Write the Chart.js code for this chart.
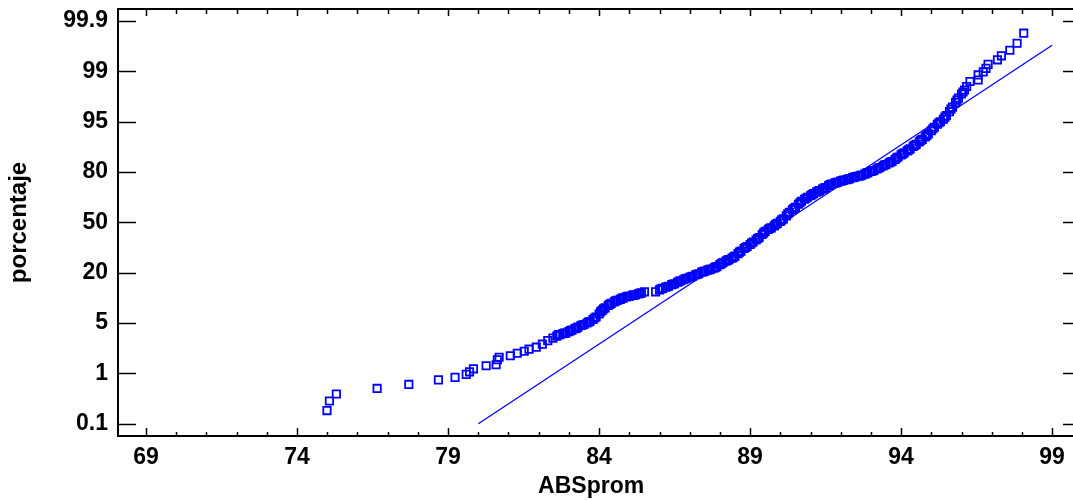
<!DOCTYPE html>
<html>
<head>
<meta charset="utf-8">
<script src="https://cdn.jsdelivr.net/npm/chart.js@4.4.1/dist/chart.umd.min.js"></script>
<style>
html, body { margin: 0; padding: 0; background: #fff; overflow: hidden; }
#wrap { width: 1073px; height: 500px; }
</style>
</head>
<body>
<div id="wrap"><canvas id="probplot" width="1073" height="500"></canvas></div>
<script>
// y axis: percentage labels, drawn equally spaced (position = index in this list)
var yTickLabels = ['0.1', '1', '5', '20', '50', '80', '95', '99', '99.9'];
var xTicks = [69, 74, 79, 84, 89, 94, 99];

// observed points: ABSprom value and its plotting position on the y axis
var absProm = [74.99, 75.07, 75.30, 76.65, 77.70, 78.68, 79.23, 79.60, 79.71, 79.84,
  80.26, 80.59, 80.63, 80.69, 81.06, 81.29, 81.52, 81.68, 81.92, 82.12, 82.30, 82.47,
  82.60, 82.70, 82.80, 82.90, 83.00, 83.10, 83.20, 83.30, 83.40, 83.50, 83.60, 83.70,
  83.80, 83.90, 84.00, 84.05, 84.10, 84.20, 84.30, 84.40, 84.50, 84.60, 84.70, 84.80,
  84.90, 85.00, 85.10, 85.20, 85.30, 85.40, 85.50, 85.87, 86.00, 86.10, 86.20, 86.30,
  86.40, 86.50, 86.60, 86.70, 86.80, 86.90, 87.00, 87.10, 87.20, 87.30, 87.40, 87.50,
  87.60, 87.70, 87.80, 87.90, 88.00, 88.10, 88.20, 88.30, 88.40, 88.50, 88.60, 88.70,
  88.80, 88.90, 89.00, 89.10, 89.20, 89.30, 89.40, 89.50, 89.60, 89.70, 89.80, 89.90,
  90.00, 90.10, 90.20, 90.30, 90.40, 90.50, 90.60, 90.70, 90.80, 90.90, 91.00, 91.10,
  91.20, 91.30, 91.40, 91.50, 91.60, 91.70, 91.80, 91.90, 92.00, 92.10, 92.20, 92.30,
  92.40, 92.50, 92.60, 92.70, 92.80, 92.90, 93.00, 93.10, 93.20, 93.30, 93.40, 93.50,
  93.60, 93.70, 93.80, 93.90, 94.00, 94.10, 94.20, 94.30, 94.40, 94.50, 94.60, 94.70,
  94.80, 94.90, 95.00, 95.10, 95.20, 95.30, 95.40, 95.50, 95.60, 95.70, 95.80, 95.90,
  96.00, 96.10, 96.17, 96.28, 96.55, 96.55, 96.72, 96.81, 96.88, 97.19, 97.32, 97.60,
  97.84, 98.06,
  // second pass through the dense part of the band
  82.65, 82.85, 83.05, 83.25, 83.45, 83.65, 83.85, 84.15, 84.35, 84.55, 84.75, 84.95,
  85.15, 85.35, 86.05, 86.25, 86.45, 86.65, 86.85, 87.05, 87.25, 87.45, 87.65, 87.85,
  88.05, 88.25, 88.45, 88.65, 88.85, 89.05, 89.25, 89.45, 89.65, 89.85, 90.05, 90.25,
  90.45, 90.65, 90.85, 91.05, 91.25, 91.45, 91.65, 91.85, 92.05, 92.25, 92.45, 92.65,
  92.85, 93.05, 93.25, 93.45, 93.65, 93.85, 94.05, 94.25, 94.45, 94.65, 94.85, 95.05,
  95.25, 95.45, 95.65, 95.85, 96.05];
var position = [0.26, 0.45, 0.59, 0.70, 0.78, 0.87, 0.92, 0.98, 1.03, 1.09,
  1.15, 1.17, 1.27, 1.32, 1.35, 1.40, 1.44, 1.48, 1.52, 1.58, 1.65, 1.70,
  1.74, 1.77, 1.79, 1.80, 1.83, 1.86, 1.89, 1.92, 1.95, 1.97, 2.00, 2.03,
  2.07, 2.12, 2.18, 2.22, 2.25, 2.30, 2.35, 2.39, 2.42, 2.45, 2.47, 2.50,
  2.52, 2.53, 2.55, 2.56, 2.58, 2.60, 2.62, 2.62, 2.66, 2.69, 2.71, 2.73,
  2.76, 2.78, 2.81, 2.84, 2.86, 2.89, 2.91, 2.93, 2.96, 2.98, 3.01, 3.03,
  3.05, 3.07, 3.09, 3.12, 3.16, 3.20, 3.23, 3.26, 3.29, 3.33, 3.38, 3.43,
  3.48, 3.52, 3.56, 3.61, 3.65, 3.70, 3.76, 3.82, 3.86, 3.89, 3.93, 3.98,
  4.02, 4.07, 4.13, 4.20, 4.25, 4.30, 4.36, 4.42, 4.46, 4.50, 4.53, 4.57,
  4.60, 4.63, 4.66, 4.69, 4.73, 4.76, 4.78, 4.80, 4.82, 4.84, 4.85, 4.87,
  4.89, 4.91, 4.92, 4.94, 4.96, 4.99, 5.01, 5.03, 5.06, 5.09, 5.12, 5.15,
  5.18, 5.21, 5.25, 5.30, 5.34, 5.38, 5.42, 5.46, 5.51, 5.55, 5.60, 5.65,
  5.70, 5.76, 5.82, 5.89, 5.95, 6.00, 6.05, 6.12, 6.20, 6.29, 6.38, 6.47,
  6.55, 6.63, 6.70, 6.80, 6.83, 6.93, 6.99, 7.06, 7.14, 7.23, 7.31, 7.42,
  7.56, 7.76,
  1.77, 1.80, 1.85, 1.90, 1.96, 2.02, 2.10, 2.28, 2.37, 2.44, 2.49, 2.53,
  2.56, 2.59, 2.68, 2.72, 2.77, 2.83, 2.88, 2.92, 2.97, 3.02, 3.06, 3.11,
  3.18, 3.25, 3.31, 3.41, 3.50, 3.59, 3.68, 3.79, 3.88, 3.96, 4.05, 4.17,
  4.28, 4.39, 4.48, 4.55, 4.62, 4.68, 4.75, 4.79, 4.83, 4.86, 4.90, 4.93,
  4.98, 5.02, 5.08, 5.14, 5.20, 5.28, 5.36, 5.44, 5.53, 5.63, 5.73, 5.86,
  5.98, 6.09, 6.25, 6.43, 6.59];

// fitted normal reference line (end points)
var fitX = [80.0, 99.0];
var fitPos = [0.0, 7.52];

var blue = '#0000ff';
var fontFam = '"Liberation Sans", Arial, sans-serif';

var points = absProm.map(function (v, i) { return { x: v, y: position[i] }; });
var fitLine = fitX.map(function (v, i) { return { x: v, y: fitPos[i] }; });

// frame with inward ticks; the right side runs to the canvas edge as in the original
var framePlugin = {
  id: 'frame',
  afterDraw: function (chart) {
    var ctx = chart.ctx, a = chart.chartArea;
    var xs = chart.scales.x, ys = chart.scales.y;
    var right = chart.width - 1;
    ctx.save();
    ctx.strokeStyle = '#000';
    ctx.lineWidth = 2;
    ctx.beginPath();
    ctx.moveTo(right + 2, a.top);
    ctx.lineTo(a.left, a.top);
    ctx.lineTo(a.left, a.bottom);
    ctx.lineTo(right + 2, a.bottom);
    ctx.stroke();
    ctx.lineWidth = 1.5;
    ctx.beginPath();
    for (var v = 69; v <= 99; v++) {
      var px = Math.round(xs.getPixelForValue(v)) + 0.5;
      var major = (v - 69) % 5 === 0;
      ctx.moveTo(px, a.bottom);
      ctx.lineTo(px, a.bottom - (major ? 8 : 4));
      ctx.moveTo(px, a.top);
      ctx.lineTo(px, a.top + (major ? 7 : 5));
    }
    yTickLabels.forEach(function (l, i) {
      var py = Math.round(ys.getPixelForValue(i)) + 0.5;
      ctx.moveTo(a.left, py);
      ctx.lineTo(a.left + 18, py);
      ctx.moveTo(right + 1, py);
      ctx.lineTo(right - 9, py);
    });
    ctx.stroke();
    ctx.restore();
  }
};

var config = {
  type: 'scatter',
  data: {
    datasets: [{
      label: 'ABSprom',
      data: points,
      pointStyle: 'rect',
      pointRadius: 5.2,
      pointBorderWidth: 1.8,
      pointBorderColor: blue,
      pointBackgroundColor: 'rgba(0,0,0,0)',
      showLine: false
    }, {
      label: 'Normal',
      data: fitLine,
      showLine: true,
      borderColor: blue,
      borderWidth: 1.3,
      pointRadius: 0
    }]
  },
  plugins: [framePlugin],
  options: {
    responsive: false,
    animation: false,
    layout: { padding: { top: 9, right: 0, left: 0, bottom: 0 } },
    plugins: {
      legend: { display: false },
      tooltip: { enabled: false }
    },
    scales: {
      x: {
        type: 'linear',
        min: 68.07,
        max: 99.4,
        afterFit: function (s) { s.height = 64; },
        afterBuildTicks: function (s) { s.ticks = xTicks.map(function (v) { return { value: v }; }); },
        grid: { display: false, drawTicks: false },
        border: { display: false },
        ticks: {
          color: '#000',
          padding: 8,
          font: { family: fontFam, size: 23, weight: 'bold' },
          callback: function (v) { return v; }
        },
        title: {
          display: true,
          text: 'ABSprom',
          color: '#000',
          padding: { top: 0, bottom: 0 },
          font: { family: fontFam, size: 23, weight: 'bold' }
        }
      },
      y: {
        type: 'linear',
        min: -0.245,
        max: 8.24,
        afterFit: function (s) { s.width = 118; s.paddingTop = 0; s.paddingBottom = 0; },
        afterBuildTicks: function (s) { s.ticks = yTickLabels.map(function (l, i) { return { value: i }; }); },
        grid: { display: false, drawTicks: false },
        border: { display: false },
        ticks: {
          color: '#000',
          padding: 10,
          font: { family: fontFam, size: 23, weight: 'bold' },
          callback: function (v) { return yTickLabels[v]; }
        },
        title: {
          display: true,
          text: 'porcentaje',
          color: '#000',
          padding: { top: 5, bottom: 0 },
          font: { family: fontFam, size: 24, weight: 'bold' }
        }
      }
    }
  }
};

window.onload = function () {
  var ctx = document.getElementById('probplot').getContext('2d');
  window.probChart = new Chart(ctx, config);
};
</script>
</body>
</html>
